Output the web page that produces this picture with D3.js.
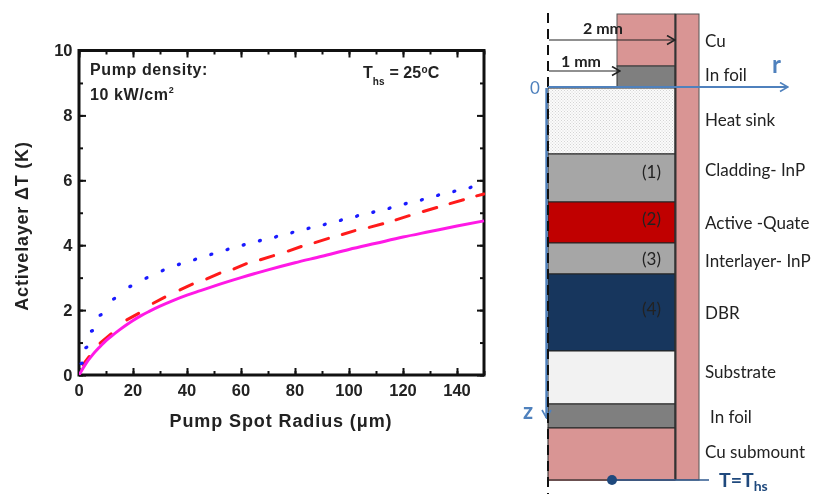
<!DOCTYPE html>
<html><head><meta charset="utf-8">
<script src="https://cdn.jsdelivr.net/npm/d3@7"></script>
<style>
html,body{margin:0;padding:0;background:#fff;overflow:hidden}
svg{display:block;filter:blur(0.4px)}
.chart text{font-family:"Liberation Sans",Arial,sans-serif;font-weight:bold;fill:#222}
.diagram text{font-family:Lato,"Open Sans",sans-serif;fill:#222}
</style></head><body>
<svg id="c" width="815" height="494"></svg>
<script>
// ---- chart data ----
const xTicks = [0,20,40,60,80,100,120,140];
const yTicks = [0,2,4,6,8,10];
const solidX = [0,0.74,2.6,5,7.5,10,12.5,15,17.5,20,23,26,30,35,40,45,50,60,70,80,90,100,110,120,130,140,150];
const solidY = [0,0.1,0.36,0.62,0.85,1.06,1.23,1.39,1.54,1.68,1.83,1.96,2.12,2.30,2.46,2.60,2.74,3.0,3.24,3.46,3.66,3.87,4.06,4.25,4.42,4.59,4.75];
const dashStartX = [1.5,7.8,17.7,27.5,37.4,47.3,57.4,67.2,77.5,87.4,97.5,107.5,117.4,127.5,137.4,147.3];
const dashStartY = [0.32,0.98,1.70,2.21,2.62,2.96,3.27,3.55,3.82,4.08,4.33,4.55,4.78,5.04,5.28,5.52];
const dashEndX = [3.8,11.9,22.1,31.8,42,52.2,62,72.1,82.3,92.4,102.2,112.5,122.3,132.5,142.4,150];
const dashEndY = [0.57,1.27,1.90,2.40,2.80,3.14,3.43,3.68,3.96,4.21,4.45,4.66,4.91,5.16,5.40,5.58];
const dotX = [1,2.7,4.8,8,13,19,25,31,37,43,49,55,61,67,73,79,85,91,97,103,109,115,121,127,133,139,145];
const dotY = [0.36,0.85,1.36,1.85,2.35,2.73,2.99,3.22,3.41,3.56,3.72,3.87,4.01,4.14,4.26,4.39,4.52,4.64,4.77,4.90,5.02,5.14,5.28,5.40,5.54,5.66,5.78];
// ---- diagram data ----
const layerNames = ["Heat sink","Cladding- InP","Active -Quate","Interlayer- InP","DBR","Substrate","In foil","Cu submount"];
const layerBounds = [88,154,202,243,274,351,404,428,480];
const layerFills = ["url(#stip)","#a6a6a6","#c00000","#a6a6a6","#17365d","#f2f2f2","#7f7f7f","#d99594"];
const layerLabelY = [126,176,229,267,319,378,423,458];
const layerNums = ["","(1)","(2)","(3)","(4)","","",""];
const layerNumY = [0,178,225,265,315,0,0,0];

const svg = d3.select("#c");
const defs = svg.append("defs");
const p = defs.append("pattern").attr("id","stip").attr("width",3).attr("height",3).attr("patternUnits","userSpaceOnUse");
p.append("rect").attr("width",3).attr("height",3).attr("fill","#fbfbfb");
p.append("rect").attr("width",1).attr("height",1).attr("fill","#d4d4d4");
p.append("rect").attr("x",1.5).attr("y",1.5).attr("width",1).attr("height",1).attr("fill","#d4d4d4");
[["ab","#222"],["ar","#4f81bd"]].forEach(([id,col])=>{
  const m=defs.append("marker").attr("id",id).attr("viewBox","0 0 10 10").attr("refX",9).attr("refY",5)
   .attr("markerUnits","userSpaceOnUse").attr("markerWidth",10).attr("markerHeight",11).attr("orient","auto");
  m.append("path").attr("d","M1,0.5L9,5L1,9.5").attr("fill","none").attr("stroke",col).attr("stroke-width",1.6);
});

// ---- left chart ----
const L=79,R=484,T=50.5,B=375;
const x=d3.scaleLinear().domain([0,150]).range([L,R]);
const y=d3.scaleLinear().domain([0,10]).range([B,T]);
const g=svg.append("g").attr("class","chart");
const minorX=d3.range(0,151,10), minorY=d3.range(0,10.01,1);
function drawTicks(orient,tr,scale,vals,len){
  const a=orient(scale).tickValues(vals).tickSize(len).tickPadding(0).tickFormat("");
  const s=g.append("g").attr("transform",tr).call(a);
  s.select(".domain").remove();
  s.selectAll("line").attr("stroke","#111").attr("stroke-width",2);
}
drawTicks(d3.axisBottom,`translate(0,${B})`,x,minorX,-4);
drawTicks(d3.axisBottom,`translate(0,${B})`,x,xTicks,-7);
drawTicks(d3.axisTop,`translate(0,${T})`,x,minorX,-4);
drawTicks(d3.axisTop,`translate(0,${T})`,x,xTicks,-7);
drawTicks(d3.axisLeft,`translate(${L},0)`,y,minorY,-4);
drawTicks(d3.axisLeft,`translate(${L},0)`,y,yTicks,-7);
drawTicks(d3.axisRight,`translate(${R},0)`,y,minorY,-4);
drawTicks(d3.axisRight,`translate(${R},0)`,y,yTicks,-7);
g.selectAll(".xl").data(xTicks).join("text").attr("x",d=>x(d)).attr("y",B+21).attr("text-anchor","middle").attr("font-size",16.5).text(d=>d);
g.selectAll(".yl").data(yTicks).join("text").attr("x",L-6.5).attr("y",d=>y(d)+5.5).attr("text-anchor","end").attr("font-size",16.5).text(d=>d);
g.append("rect").attr("x",L).attr("y",T).attr("width",R-L).attr("height",B-T).attr("fill","none").attr("stroke","#111").attr("stroke-width",3);

const line=d3.line().x(d=>x(d[0])).y(d=>y(d[1])).curve(d3.curveMonotoneX);
const clip=defs.append("clipPath").attr("id","plot");
clip.append("rect").attr("x",L).attr("y",T).attr("width",R-L+1).attr("height",B-T);
const plot=g.append("g").attr("clip-path","url(#plot)");
plot.selectAll(".dash").data(d3.zip(dashStartX,dashStartY,dashEndX,dashEndY)).join("line")
  .attr("x1",d=>x(d[0])).attr("y1",d=>y(d[1])).attr("x2",d=>x(d[2])).attr("y2",d=>y(d[3]))
  .attr("stroke","#ff1a1a").attr("stroke-width",3).attr("stroke-linecap","round");
plot.selectAll(".dot").data(d3.zip(dotX,dotY)).join("ellipse")
  .attr("transform",d=>`translate(${x(d[0])},${y(d[1])}) rotate(-25)`)
  .attr("rx",2.2).attr("ry",1.7).attr("fill","#1a1aff");
plot.append("path").attr("d",line(d3.zip(solidX,solidY))).attr("fill","none").attr("stroke","#ff19e6").attr("stroke-width",3);

g.append("text").attr("x",90).attr("y",75).attr("font-size",16).attr("letter-spacing",0.6).text("Pump density:");
const t2=g.append("text").attr("x",90).attr("y",100).attr("font-size",16).attr("letter-spacing",0.6);
t2.append("tspan").text("10 kW/cm");
t2.append("tspan").attr("dy",-7).attr("font-size",9).text("2");
const t3=g.append("text").attr("x",363).attr("y",78).attr("font-size",16);
t3.append("tspan").text("T");
t3.append("tspan").attr("dy",7).attr("font-size",10).text("hs");
t3.append("tspan").attr("dy",-7).attr("dx",5).text("= 25");
t3.append("tspan").attr("dy",-5).attr("dx",0.5).attr("font-size",10).text("o");
t3.append("tspan").attr("dy",5).text("C");
g.append("text").attr("x",281).attr("y",427).attr("text-anchor","middle").attr("font-size",18).attr("letter-spacing",0.9).text("Pump Spot Radius (μm)");
g.append("text").attr("transform","translate(28,226) rotate(-90)").attr("text-anchor","middle").attr("font-size",18).attr("letter-spacing",0.8).text("Activelayer ΔT (K)");

// ---- right diagram ----
const xs=d3.scaleLinear().domain([0,1]).range([548,675]);
const d=svg.append("g").attr("class","diagram");
d.append("rect").attr("x",675).attr("y",14).attr("width",24).attr("height",466).attr("fill","#d99594").attr("stroke","#555").attr("stroke-width",1);
d.append("rect").attr("x",617).attr("y",14).attr("width",58).attr("height",52).attr("fill","#d99594").attr("stroke","#555").attr("stroke-width",1);
d.append("rect").attr("x",617).attr("y",66).attr("width",58).attr("height",22).attr("fill","#7f7f7f").attr("stroke","#333").attr("stroke-width",1);
d.selectAll(".lay").data(layerFills).join("rect")
 .attr("x",xs(0)).attr("width",xs(1)-xs(0))
 .attr("y",(c,i)=>layerBounds[i]).attr("height",(c,i)=>layerBounds[i+1]-layerBounds[i])
 .attr("fill",c=>c).attr("stroke","#222").attr("stroke-width",1);
d.append("line").attr("x1",675.5).attr("x2",675.5).attr("y1",14).attr("y2",480).attr("stroke","#333").attr("stroke-width",2);
d.append("line").attr("x1",548).attr("x2",675).attr("y1",480).attr("y2",480).attr("stroke","#6b5050").attr("stroke-width",2);
d.append("line").attr("x1",546.5).attr("x2",546.5).attr("y1",88).attr("y2",418).attr("stroke","#4f81bd").attr("stroke-width",2.4).attr("marker-end","url(#ar)");
d.append("line").attr("x1",548).attr("x2",548).attr("y1",13).attr("y2",494).attr("stroke","#111").attr("stroke-width",2).attr("stroke-dasharray","10 6");
d.append("line").attr("x1",548).attr("x2",788).attr("y1",87).attr("y2",87).attr("stroke","#4f81bd").attr("stroke-width",1.8).attr("marker-end","url(#ar)");
d.append("line").attr("x1",549).attr("x2",675).attr("y1",40).attr("y2",40).attr("stroke","#222").attr("stroke-width",1.2).attr("marker-end","url(#ab)");
d.append("line").attr("x1",549).attr("x2",620).attr("y1",71).attr("y2",71).attr("stroke","#222").attr("stroke-width",1.2).attr("marker-end","url(#ab)");
d.append("text").attr("x",583).attr("y",34).attr("font-size",16).attr("font-weight",700).text("2 mm");
d.append("text").attr("x",561).attr("y",67).attr("font-size",16).attr("font-weight",700).text("1 mm");
d.append("text").attr("x",530).attr("y",94).attr("font-size",17).attr("style","fill:#4f81bd").text("0");
d.append("text").attr("x",772).attr("y",73).attr("font-size",24).attr("font-weight",700).attr("style","fill:#4f81bd").text("r");
d.append("text").attr("x",523).attr("y",419).attr("font-size",22).attr("font-weight",700).attr("style","fill:#4f81bd").text("z");
d.append("text").attr("x",705).attr("y",47).attr("font-size",17).text("Cu");
d.append("text").attr("x",705).attr("y",81).attr("font-size",17).text("In foil");
d.selectAll(".ll").data(layerNames).join("text").attr("x",(n,i)=>i==6?710:705).attr("y",(n,i)=>layerLabelY[i]).attr("font-size",17).text(n=>n);
d.selectAll(".ln").data(layerNums).join("text").attr("x",651.5).attr("y",(n,i)=>layerNumY[i]).attr("text-anchor","middle").attr("font-size",17).text(n=>n);
d.append("line").attr("x1",612).attr("x2",709).attr("y1",480).attr("y2",480).attr("stroke","#2f5a8f").attr("stroke-width",1.6);
d.append("circle").attr("cx",612).attr("cy",480).attr("r",5).attr("fill","#1f497d");
const tt=d.append("text").attr("x",719).attr("y",487).attr("font-size",19.5).attr("font-weight",700).attr("style","fill:#1f497d");
tt.append("tspan").text("T=T");
tt.append("tspan").attr("dy",4).attr("font-size",14).text("hs");
</script>
</body></html>
